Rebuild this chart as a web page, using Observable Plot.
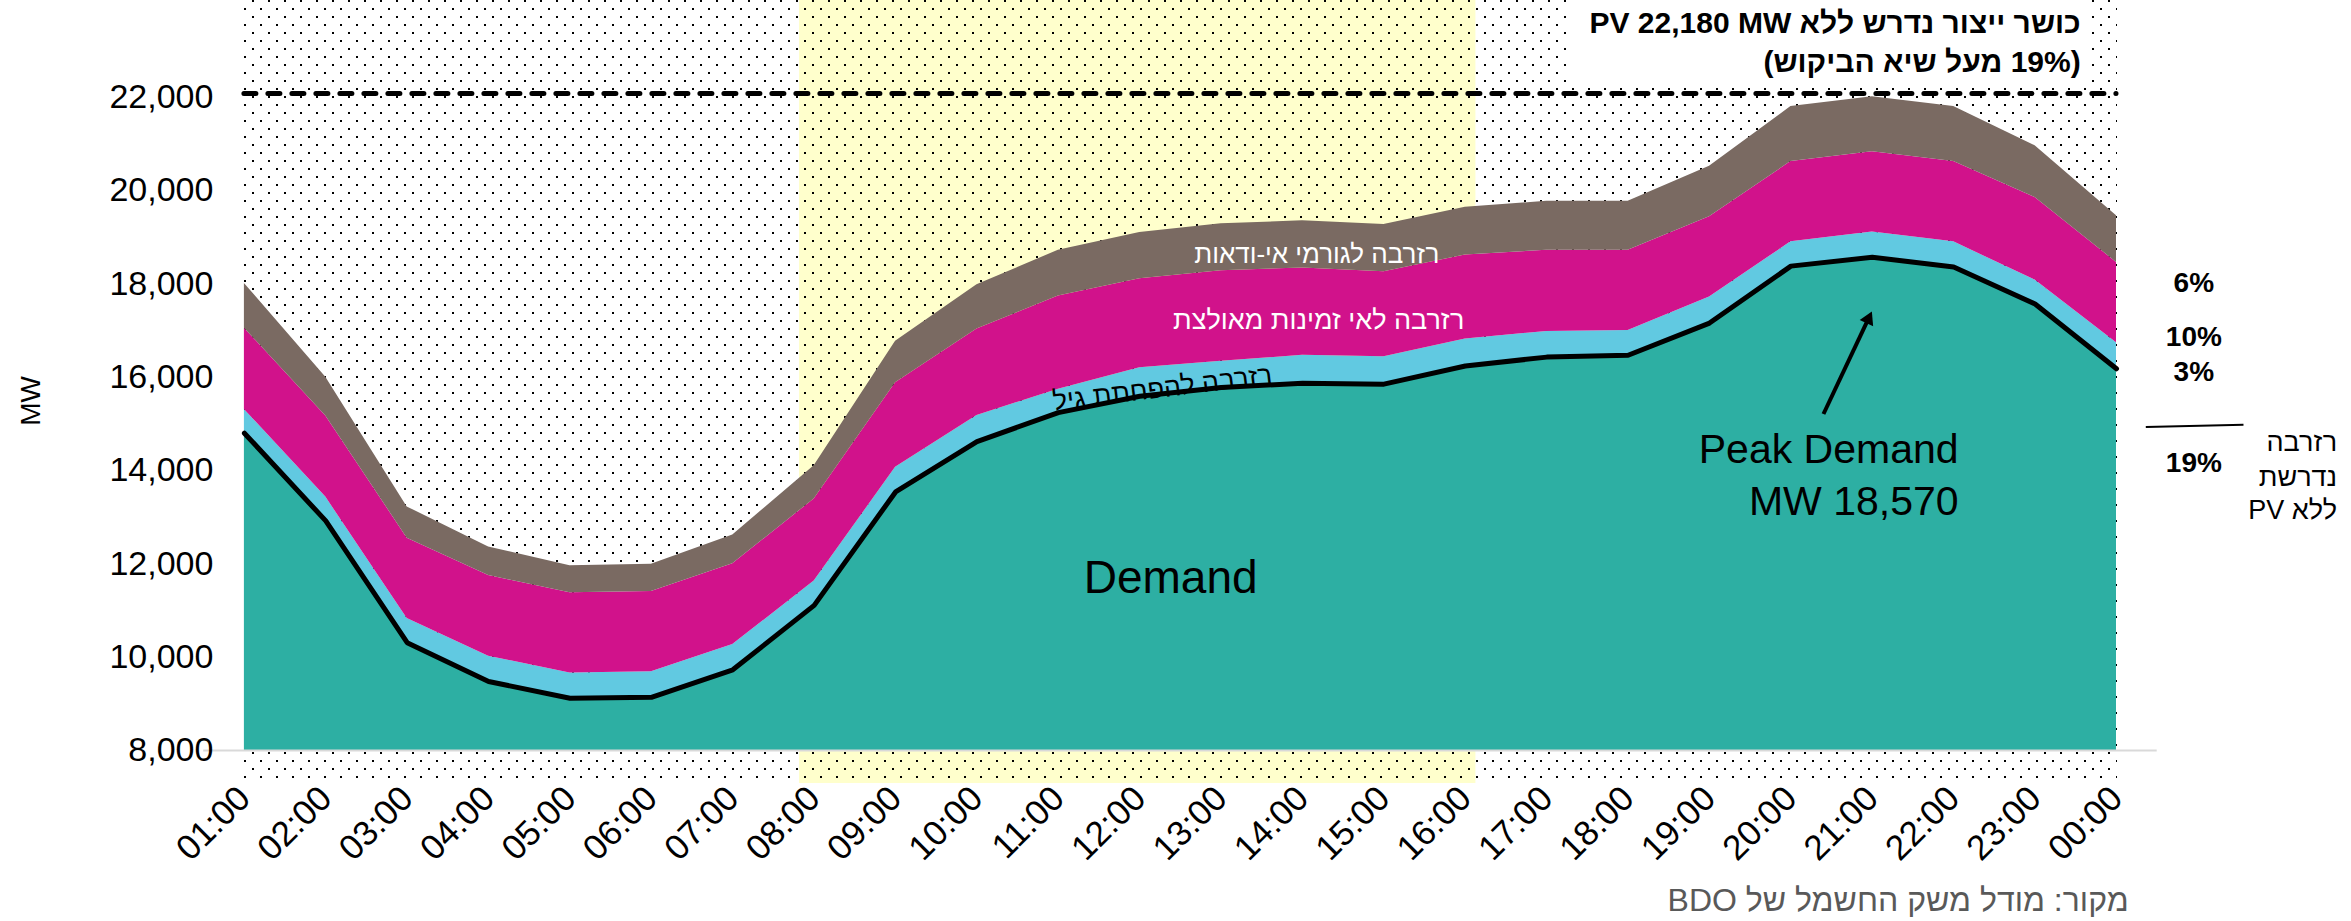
<!DOCTYPE html>
<html><head><meta charset="utf-8">
<script src="https://cdn.jsdelivr.net/npm/d3@7"></script>
<script src="https://cdn.jsdelivr.net/npm/@observablehq/plot@0.6"></script>
<style>html,body{margin:0;padding:0;background:#fff;} #chart svg{display:block}</style>
</head><body><div id="chart"></div>
<script>
// ---- data ----
const hours = ["01:00","02:00","03:00","04:00","05:00","06:00","07:00","08:00","09:00","10:00","11:00","12:00",
               "13:00","14:00","15:00","16:00","17:00","18:00","19:00","20:00","21:00","22:00","23:00","00:00"];
const demand = [14800, 12920, 10310, 9480, 9120, 9140, 9730, 11110, 13540, 14620, 15240, 15590,
                15780, 15870, 15850, 16240, 16430, 16470, 17160, 18380, 18570, 18360, 17570, 16180];
const ageReserve = [510, 510, 520, 540, 540, 550, 540, 520, 530, 560, 500, 610,
                    560, 600, 590, 580, 550, 530, 560, 520, 540, 540, 510, 560];
const availabilityReserve = [1740, 1740, 1720, 1730, 1720, 1720, 1730, 1760, 1810, 1850, 2000, 1910,
                             1940, 1870, 1820, 1800, 1740, 1720, 1720, 1720, 1720, 1720, 1770, 1720];
const uncertaintyReserve = [960, 830, 670, 610, 580, 580, 620, 710, 890, 950, 980, 990,
                            1010, 1010, 1010, 1020, 1050, 1050, 1080, 1180, 1180, 1180, 1110, 1000];
const yTicks = [8000, 10000, 12000, 14000, 16000, 18000, 20000, 22000];
const requiredCapacityLine = 22080;
const solarWindow = [7.82, 16.13];
const reserveShares = ["6%", "10%", "3%"];
const reserveTotal = "19%";
const titleLines = ["כושר ייצור נדרש ללא PV 22,180 MW", "(19% מעל שיא הביקוש)"];
const sideLabelLines = ["רזרבה", "נדרשת", "ללא PV"];
const bandLabels = ["רזרבה לגורמי אי-ודאות", "רזרבה לאי זמינות מאולצת", "רזרבה להפחתת גיל"];
const peakLines = ["Peak Demand", "MW 18,570"];
const sourceText = "מקור: מודל משק החשמל של BDO";

// ---- table ----
const yMin = yTicks[0];
const rows = hours.map((label, i) => {
  const d = demand[i];
  const t1 = d + ageReserve[i];
  const t2 = t1 + availabilityReserve[i];
  const t3 = t2 + uncertaintyReserve[i];
  return {h: i + 1, label, d, t1, t2, t3};
});
const hourIdx = rows.map(r => r.h);
const rtl = s => "\u202B" + s + "\u202C";
const fmt = d3.format(",d");

function backdrop(index, scales) {
  const x = scales.x, y = scales.y;
  const g = d3.create("svg:g");
  const pat = g.append("defs").append("pattern")
    .attr("id", "dots").attr("patternUnits", "userSpaceOnUse")
    .attr("width", 16).attr("height", 16).attr("x", 252).attr("y", 16);
  pat.append("rect").attr("x", 0).attr("y", 0).attr("width", 2).attr("height", 2).attr("fill", "#000");
  pat.append("rect").attr("x", 8).attr("y", 8).attr("width", 2).attr("height", 2).attr("fill", "#000");
  const bottom = y(yMin) + 32;
  g.append("rect").attr("x", x(solarWindow[0])).attr("y", 0)
    .attr("width", x(solarWindow[1]) - x(solarWindow[0])).attr("height", bottom + 1).attr("fill", "#FFFFCC");
  g.append("rect").attr("x", x(1)).attr("y", 0)
    .attr("width", x(24) - x(1) + 1).attr("height", bottom).attr("fill", "url(#dots)");
  // white box behind the title
  g.append("rect").attr("x", x(17.3)).attr("y", 0)
    .attr("width", x(23.67) - x(17.3)).attr("height", 82).attr("fill", "#fff");
  return g.node();
}

const chart = Plot.plot({
  width: 2351,
  height: 921,
  marginLeft: 243.9,
  marginRight: 235,
  marginTop: 96.7,
  marginBottom: 171,
  x: {type: "linear", domain: [1, 24]},
  y: {domain: [8000, 22000]},
  style: {fontFamily: "'Liberation Sans', Arial, sans-serif", fontSize: "34px", background: "#fff", overflow: "visible"},
  marks: [
    backdrop,
    Plot.areaY(rows, {x: "h", y1: () => yMin, y2: "d", fill: "#2DAFA3"}),
    Plot.areaY(rows, {x: "h", y1: "d", y2: "t1", fill: "#61C9E1"}),
    Plot.areaY(rows, {x: "h", y1: "t1", y2: "t2", fill: "#D1128B"}),
    Plot.areaY(rows, {x: "h", y1: "t2", y2: "t3", fill: "#7A6A62"}),
    Plot.line(rows, {x: "h", y: "d", stroke: "#000", strokeWidth: 5, strokeLinejoin: "miter"}),
    Plot.ruleY([yMin], {x1: 0.5, x2: 24.5, stroke: "#D9D9D9", strokeWidth: 2}),
    Plot.ruleY([requiredCapacityLine], {x1: 1, x2: 24, stroke: "#000", strokeWidth: 5, strokeDasharray: "12,12", strokeLinecap: "round"}),
    Plot.axisY({ticks: yTicks, tickFormat: fmt, tickSize: 0, tickPadding: 31, fontSize: 34, fill: "#000", label: null}),
    Plot.axisX({ticks: hourIdx, tickFormat: d => hours[d - 1], tickSize: 0, tickRotate: -45, tickPadding: 42,
                textAnchor: "end", lineAnchor: "middle", fontSize: 35, fill: "#000", label: null}),
    Plot.text(["MW"], {frameAnchor: "left", dx: -213, dy: 2, rotate: -90, fontSize: 28, fill: "#000"}),
    // band labels
    Plot.text([rtl(bandLabels[0])], {x: 15.68, y: 18629, textAnchor: "end", fontSize: 26, fill: "#fff"}),
    Plot.text([rtl(bandLabels[1])], {x: 15.99, y: 17215, textAnchor: "end", fontSize: 27, fill: "#fff"}),
    Plot.text([rtl(bandLabels[2])], {x: 12.28, y: 15758, rotate: -7, fontSize: 27, fill: "#000"}),
    Plot.text(["Demand"], {x: 12.38, y: 11686, fontSize: 46, fill: "#000"}),
    // peak annotation
    Plot.text(peakLines, {x: 22.06, y: (d, i) => [14450, 13336][i], textAnchor: "end", fontSize: 41, fill: "#000"}),
    Plot.link([0], {x1: 20.40, y1: 15211, x2: 20.95, y2: 17243, stroke: "#000", strokeWidth: 4}),
    Plot.dot([0], {x: 20.95, y: 17243, symbol: "triangle", r: 5.5, rotate: 25, fill: "#000", stroke: "none"}),
    // title
    Plot.text(titleLines.map(rtl), {x: 23.56, y: (d, i) => [23580, 22744][i], textAnchor: "end", fontSize: 30, fontWeight: "bold", fill: "#000"}),
    // right side reserve breakdown
    Plot.text(reserveShares, {x: 24.95, y: (d, i) => [18008, 16857, 16107][i], fontSize: 28, fontWeight: "bold", fill: "#000"}),
    Plot.link([0], {x1: 24.36, y1: 14930, x2: 25.56, y2: 14980, stroke: "#000", strokeWidth: 2}),
    Plot.text([reserveTotal], {x: 24.95, y: 14150, fontSize: 28, fontWeight: "bold", fill: "#000"}),
    Plot.text(sideLabelLines.map(rtl), {x: 26.71, y: (d, i) => [14607, 13857, 13143][i], textAnchor: "end", fontSize: 27, fill: "#000"}),
    // source
    Plot.text([rtl(sourceText)], {x: 24.15, y: 4786, textAnchor: "end", fontSize: 32, fill: "#595959"})
  ]
});
document.getElementById("chart").appendChild(chart);
</script>
</body></html>
